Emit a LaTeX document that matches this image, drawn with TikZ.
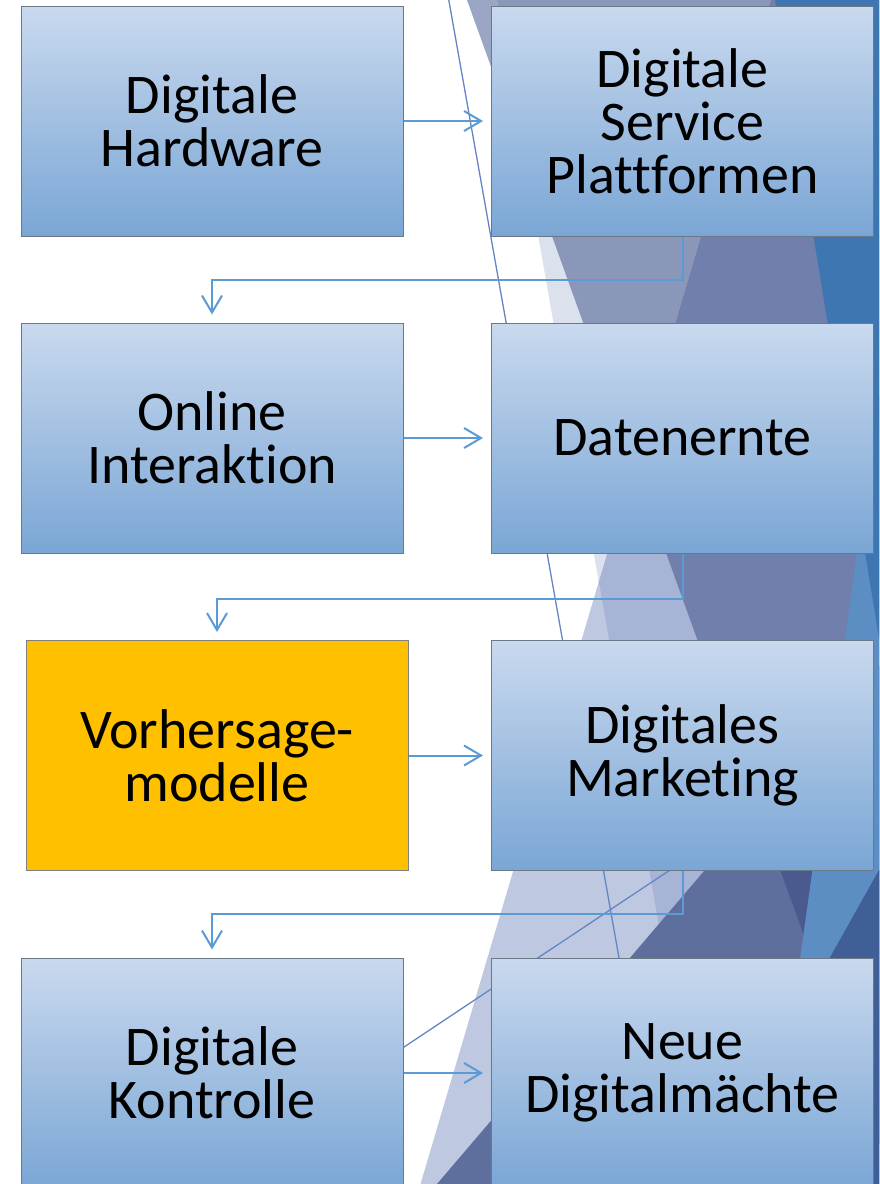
\documentclass[tikz,border=0pt]{standalone}
\usepackage{fontspec}
\setmainfont{Carlito}[Ligatures={NoCommon,NoContextual,NoRequired}]
\usetikzlibrary{arrows.meta}
\definecolor{BoxTop}{HTML}{C9D9EE}
\definecolor{BoxMid}{HTML}{A6C3E4}
\definecolor{BoxBottom}{HTML}{7AA6D5}
\definecolor{BoxLine}{HTML}{6B7886}
\definecolor{Gold}{HTML}{FFC000}
\definecolor{Flow}{HTML}{5B9BD5}
\definecolor{Thin}{HTML}{6584C4}
\definecolor{FacetA}{HTML}{DCE1EE}
\definecolor{FacetB}{HTML}{9AA6C4}
\definecolor{FacetBA}{HTML}{8A97B8}
\definecolor{FacetD}{HTML}{BFC8E1}
\definecolor{FacetAD}{HTML}{A7B4D6}
\definecolor{FacetBAD}{HTML}{707FAB}
\definecolor{FacetF}{HTML}{5E6F9E}
\definecolor{FacetFB}{HTML}{4A5A8F}
\definecolor{FacetLight}{HTML}{5C8DC3}
\definecolor{FacetBlue}{HTML}{3E76B1}
\definecolor{FacetNavy}{HTML}{405F97}
\tikzset{
  plainbox/.style={draw=BoxLine, line width=0.5pt, minimum width=191pt, minimum height=115pt,
    inner sep=0pt, align=center, font=\fontsize{28}{26.5}\selectfont},
  box/.style={plainbox, top color=BoxTop, middle color=BoxMid, bottom color=BoxBottom},
  hotbox/.style={plainbox, fill=Gold, draw=gray},
  flow/.style={draw=Flow, line width=1pt, -{Straight Barb[length=8.5pt,width=10pt]}, shorten >=4pt},
}
\begin{document}
\begin{tikzpicture}[x=0.5pt, y=-0.5pt]
  \useasboundingbox (0,0) rectangle (879,1184);

  % facets behind the right column
  \fill[FacetA] (497,0) -- (879,0) -- (879,1184) -- (704,1184) -- cycle;
  \fill[FacetD] (771,0) -- (879,0) -- (879,1184) -- (420.5,1184) -- cycle;
  \fill[FacetAD] (771,0) -- (879,0) -- (879,1184) -- (704,1184) -- (599,582) -- cycle;
  \fill[FacetB] (467,0) -- (497,0) -- (525.4,162.2) -- cycle;
  \fill[FacetBA] (497,0) -- (771,0) -- (633.8,463.4) -- (525.4,162.2) -- cycle;
  \fill[FacetBAD] (771,0) -- (879,0) -- (879,1144) -- (633.8,463.4) -- cycle;
  \fill[FacetF] (879,666) -- (879,1184) -- (437,1184) -- cycle;
  \fill[FacetFB] (879,666) -- (757.9,808) -- (879,1144) -- cycle;
  \fill[FacetLight] (879,395) -- (768.5,1184) -- (879,1184) -- cycle;
  \fill[FacetBlue] (775,0) -- (879,0) -- (879,638) -- cycle;
  \fill[FacetNavy] (879,870) -- (879,1184) -- (703,1184) -- cycle;

  % thin lines
  \draw[Thin, line width=0.65pt] (447,-10) -- (640,1076);
  \draw[Thin, line width=0.65pt] (380,1063) -- (700,850);

  % left column
  \node[box] (hw) at (212,121) {Digitale\\Hardware};
  \node[box] (oi) at (212,438) {Online\\Interaktion};
  \node[hotbox] (vm) at (217,755.5) {Vorhersage-\\modelle};
  \node[box] (dk) at (212,1073) {Digitale\\Kontrolle};

  % right column
  \node[box] (dsp) at (682.5,121) {Digitale\\Service\\Plattformen};
  \node[box] (de) at (682.5,438) {Datenernte};
  \node[box] (dm) at (682.5,755.5) {Digitales\\Marketing};
  \node[box] (ndm) at (682.5,1073) {Neue\\Digitalmächte};

  % arrows across
  \draw[flow] (hw) -- (dsp);
  \draw[flow] (oi) -- (de);
  \draw[flow] (vm) -- (dm);
  \draw[flow] (dk) -- (ndm);

  % arrows back to the next row
  \draw[flow] (dsp.south) -- ++(0,43) -| (oi.north);
  \draw[flow] (de.south) -- ++(0,45) -| (vm.north);
  \draw[flow] (dm.south) -- ++(0,43) -| (dk.north);
\end{tikzpicture}
\end{document}
